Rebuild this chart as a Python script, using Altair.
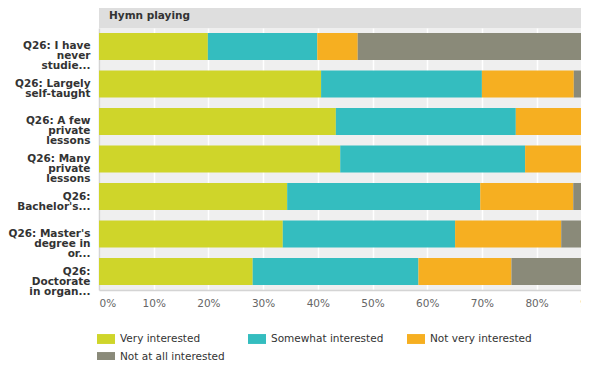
import altair as alt
import pandas as pd

categories = [
    "Q26: I have|never|studie...",
    "Q26: Largely|self-taught",
    "Q26: A few|private|lessons",
    "Q26: Many|private|lessons",
    "Q26:|Bachelor's...",
    "Q26: Master's|degree in|or...",
    "Q26:|Doctorate|in organ...",
]
series_names = ["Very interested", "Somewhat interested", "Not very interested", "Not at all interested"]
very = [19.9, 40.6, 43.3, 44.1, 34.4, 33.6, 28.1]
somewhat = [20.0, 29.4, 32.9, 33.8, 35.3, 31.5, 30.3]
not_very = [7.4, 16.8, 12.6, 19.4, 17.0, 19.4, 17.0]
not_at_all = [52.7, 13.2, 11.2, 2.7, 13.3, 15.5, 24.6]
colors = ["#cfd52a", "#34bdbf", "#f6af21", "#8a8a79"]
tick_values = [0, 10, 20, 30, 40, 50, 60, 70, 80, 90, 100]
panel_title = ["Hymn playing"]

rows = []
for s_i, (name, vals) in enumerate(zip(series_names, [very, somewhat, not_very, not_at_all])):
    for c, v in zip(categories, vals):
        rows.append({"cat": c, "series": name, "value": v, "idx": s_i})
df = pd.DataFrame(rows)

FONT = "DejaVu Sans"
PLOT_W = 482
PLOT_H = 262

bars = alt.Chart(df).mark_bar(clip=True).encode(
    y=alt.Y(
        "cat:N",
        sort=categories,
        title=None,
        scale=alt.Scale(paddingInner=0.28, paddingOuter=0.13),
        axis=alt.Axis(
            labelExpr="split(datum.label, '|')",
            labelFont=FONT,
            labelFontSize=10.5,
            labelFontWeight="bold",
            labelColor="#333333",
            labelLineHeight=10,
            labelPadding=9,
            ticks=False,
            domainColor="#d4d4d4",
            domainWidth=1.5,
            labelLimit=200,
        ),
    ),
    x=alt.X(
        "value:Q",
        stack="zero",
        title=None,
        scale=alt.Scale(domain=[0, 100], range=[0, 547]),
        axis=alt.Axis(
            values=tick_values,
            labelExpr="datum.value + '%'",
            labelFlush=True,
            labelFont=FONT,
            labelFontSize=10.5,
            labelColor="#666666",
            labelPadding=8,
            ticks=False,
            grid=True,
            gridColor="#ffffff",
            gridWidth=1.5,
            domainColor="#d4d4d4",
            domainWidth=1.5,
        ),
    ),
    color=alt.Color(
        "series:N",
        scale=alt.Scale(domain=series_names, range=colors),
        legend=alt.Legend(
            title=None,
            orient="none",
            legendX=-2,
            legendY=302,
            direction="horizontal",
            columns=3,
            gridAlign="none",
            columnPadding=23,
            rowPadding=3,
            symbolType="M-1,-0.55h2v1.1h-2z",
            symbolSize=324,
            symbolStrokeWidth=0,
            labelFont=FONT,
            labelFontSize=10.5,
            labelColor="#333333",
            labelOffset=5,
            labelLimit=300,
        ),
    ),
    order=alt.Order("idx:Q"),
)

hdr = pd.DataFrame({"title": panel_title})
header_rect = alt.Chart(hdr).mark_rect(color="#dedede").encode(
    x=alt.value(0), x2=alt.value(PLOT_W), y=alt.value(-20), y2=alt.value(0)
)
header_text = alt.Chart(hdr).mark_text(
    align="left", baseline="middle", font=FONT, fontSize=10.5, fontWeight="bold", color="#333333"
).encode(text="title:N", x=alt.value(10), y=alt.value(-12))

chart = alt.layer(header_rect, header_text, bars).properties(
    width=PLOT_W,
    height=PLOT_H,
    autosize=alt.AutoSizeParams(type="none"),
    padding={"left": 91, "top": 20, "right": 0, "bottom": 70},
).configure_view(fill="#efefef", strokeWidth=0)

chart.save("out.html", embed_options={"renderer": "svg", "actions": False})
